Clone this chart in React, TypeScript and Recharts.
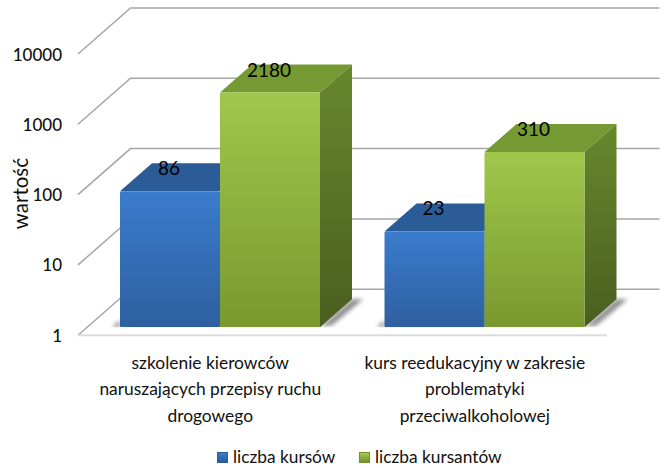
import React from 'react';
import {
  BarChart, Bar, XAxis, YAxis, ReferenceLine, Legend, LabelList,
} from 'recharts';

const categories = [
  'szkolenie kierowców naruszających przepisy ruchu drogowego',
  'kurs reedukacyjny w zakresie problematyki przeciwalkoholowej',
];
const categoryLines = [
  ['szkolenie kierowców', 'naruszających przepisy ruchu', 'drogowego'],
  ['kurs reedukacyjny w zakresie', 'problematyki', 'przeciwalkoholowej'],
];
const liczbaKursow = [86, 23];
const liczbaKursantow = [2180, 310];
const yTicks = [1, 10, 100, 1000, 10000];

const data = categories.map((name, i) => ({
  name,
  kursy: liczbaKursow[i],
  kursanci: liczbaKursantow[i],
}));

const FONT = 'Lato, sans-serif';
const DEPTH_X = 32;
const DEPTH_Y = 28;

function GridShape(props: any) {
  const { x1, x2, y1, isFloor } = props;
  const fx = x1 - 10;
  const fy = y1 + 8;
  const bx = x1 + 42.5;
  const by = y1 - 38;
  const ex = x2 + 42.5;
  return (
    <g fill="none" stroke="#a6a6a6" strokeWidth={1.5}>
      <polyline points={`${fx},${fy} ${bx},${by} ${ex},${by}`} />
      {isFloor && (
        <line x1={fx} y1={fy} x2={x2 - 10} y2={fy} stroke="#dcdcdc" strokeWidth={2} />
      )}
    </g>
  );
}

function Bar3D(props: any) {
  const { x, y, width, height, tone, withShadow } = props;
  const r = x + width;
  const b = y + height;
  return (
    <g>
      {withShadow && (
        <polygon
          points={`${r},${b} ${r + DEPTH_X},${b - DEPTH_Y} ${r + DEPTH_X + 11},${b - DEPTH_Y} ${r + 12},${b - 2}`}
          fill="#8c8c8c"
          filter="url(#floorBlur)"
        />
      )}
      {tone === 'blue' && (
        <polygon
          points={`${x - 8},${b} ${x},${b - 7} ${x},${b}`}
          fill="#8c8c8c"
          filter="url(#floorBlur)"
        />
      )}
      <polygon
        points={`${x},${y} ${x + DEPTH_X},${y - DEPTH_Y} ${r + DEPTH_X},${y - DEPTH_Y} ${r},${y}`}
        fill={tone === 'blue' ? '#2b5c98' : '#769a33'}
      />
      <polygon
        points={`${r},${y} ${r + DEPTH_X},${y - DEPTH_Y} ${r + DEPTH_X},${b - DEPTH_Y} ${r},${b}`}
        fill={`url(#${tone}Side)`}
      />
      <rect x={x} y={y} width={width} height={height} rx={1.5} fill={`url(#${tone}Front)`} />
    </g>
  );
}

function YTick(props: any) {
  const { y, payload } = props;
  return (
    <text x={62} y={y + 14.5} textAnchor="end" fontFamily={FONT} fontSize={17} fontWeight={500} fill="#111">
      {payload.value}
    </text>
  );
}

function XTick(props: any) {
  const { x, payload } = props;
  const lines = categoryLines[payload.index] || [];
  return (
    <text textAnchor="middle" fontFamily={FONT} fontSize={17.4} fill="#111">
      {lines.map((line, i) => (
        <tspan key={line} x={x - 10} y={368.5 + i * 26.5}>{line}</tspan>
      ))}
    </text>
  );
}

function LegendContent() {
  const marker = (top: string, bottom: string) => ({
    display: 'inline-block',
    width: 11,
    height: 11,
    marginRight: 5,
    background: `linear-gradient(${top}, ${bottom})`,
    border: `1px solid ${bottom}`,
    boxSizing: 'border-box' as const,
  });
  return (
    <div style={{ height: 24, fontFamily: FONT, fontSize: 17.3, color: '#111', lineHeight: '24px', whiteSpace: 'nowrap' }}>
      <span style={{ position: 'absolute', left: 217, top: 0 }}>
        <span style={marker('#3a7bcc', '#2b5c98')} />liczba kursów
      </span>
      <span style={{ position: 'absolute', left: 359, top: 0 }}>
        <span style={marker('#a4cc4c', '#6f8f2c')} />liczba kursantów
      </span>
    </div>
  );
}

const valueLabel = (props: any) => {
  const { x, y, width, value } = props;
  return (
    <text x={x + width / 2 - 1} y={y - 16} textAnchor="middle" fontFamily={FONT} fontSize={19} fill="#000">
      {value}
    </text>
  );
};

export default function App() {
  return (
    <div style={{ position: 'absolute', left: 0, top: 0, width: 664, height: 468, background: '#fff' }}>
      <BarChart
        width={664}
        height={468}
        data={data}
        barSize={100}
        barGap={0}
        margin={{ top: 46, right: 47, bottom: 16.8, left: 0 }}
      >
        <defs>
          <linearGradient id="blueFront" x1="0" y1="0" x2="0" y2="1">
            <stop offset="0%" stopColor="#3a7ccd" />
            <stop offset="100%" stopColor="#2f5f9f" />
          </linearGradient>
          <linearGradient id="greenFront" x1="0" y1="0" x2="0" y2="1">
            <stop offset="0%" stopColor="#9fc84a" />
            <stop offset="100%" stopColor="#79982f" />
          </linearGradient>
          <linearGradient id="blueSide" x1="0" y1="0" x2="0" y2="1">
            <stop offset="0%" stopColor="#2b5c98" />
            <stop offset="100%" stopColor="#1f4473" />
          </linearGradient>
          <linearGradient id="greenSide" x1="0" y1="0" x2="0" y2="1">
            <stop offset="0%" stopColor="#67882e" />
            <stop offset="100%" stopColor="#4a5e1f" />
          </linearGradient>
          <filter id="floorBlur" x="-30%" y="-30%" width="160%" height="160%">
            <feGaussianBlur stdDeviation="2" />
          </filter>
        </defs>
        <XAxis dataKey="name" height={100} axisLine={false} tickLine={false} interval={0} tick={<XTick />} />
        <YAxis
          scale="log"
          domain={[1, 10000]}
          ticks={yTicks}
          width={88}
          axisLine={false}
          tickLine={false}
          interval={0}
          allowDataOverflow
          tick={<YTick />}
          label={{
            value: 'wartość',
            angle: -90,
            position: 'insideLeft',
            dx: 16,
            dy: 7,
            style: { fontFamily: FONT, fontSize: 20.5, fill: '#111', textAnchor: 'middle' },
          }}
        />
        {yTicks.map((t) => (
          <ReferenceLine key={t} y={t} zIndex={100} shape={<GridShape isFloor={t === 1} />} />
        ))}
        <Legend
          verticalAlign="bottom"
          content={<LegendContent />}
          wrapperStyle={{ position: 'absolute', left: 0, top: 445, bottom: 'auto', width: 664, height: 24 }}
        />
        <Bar dataKey="kursy" name="liczba kursów" isAnimationActive={false} shape={<Bar3D tone="blue" />}>
          <LabelList dataKey="kursy" content={valueLabel} />
        </Bar>
        <Bar dataKey="kursanci" name="liczba kursantów" isAnimationActive={false} shape={<Bar3D tone="green" withShadow />}>
          <LabelList dataKey="kursanci" content={valueLabel} />
        </Bar>
      </BarChart>
    </div>
  );
}
